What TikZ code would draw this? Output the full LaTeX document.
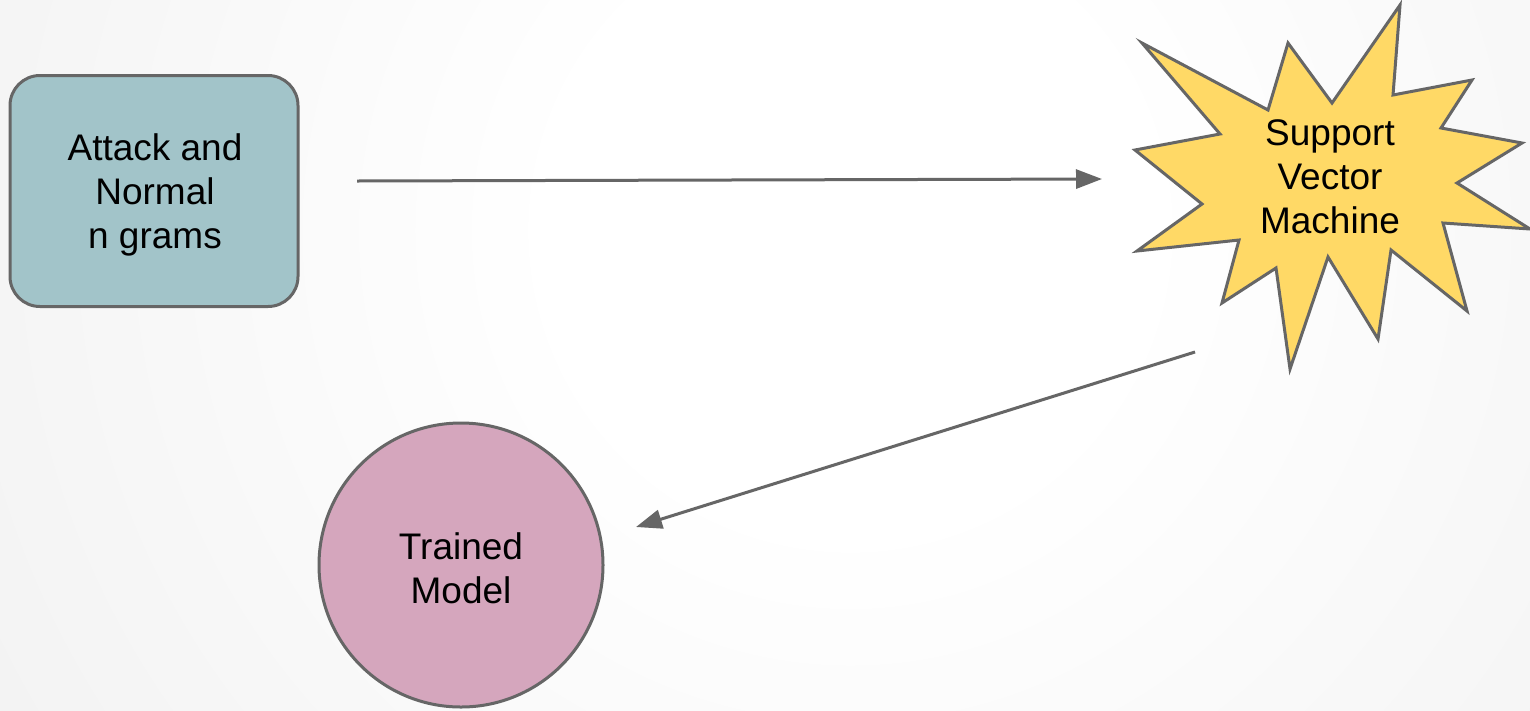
\documentclass[tikz,border=0pt]{standalone}
\usepackage{fontspec}
\setmainfont{Liberation Sans}
\usetikzlibrary{arrows.meta}
\definecolor{edge}{HTML}{666666}
\definecolor{boxfill}{HTML}{A2C4C9}
\definecolor{starfill}{HTML}{FFD966}
\definecolor{roundfill}{HTML}{D5A6BD}
\definecolor{bgouter}{HTML}{DFDFDF}
\pgfdeclareradialshading{bgglow}{\pgfpoint{0bp}{0bp}}{color(0bp)=(white); color(7bp)=(white); color(50bp)=(bgouter)}
\tikzset{
  label text/.style={align=center, text=black, font=\fontsize{37}{44}\selectfont},
  shape line/.style={draw=edge, line width=3pt},
  flow/.style={draw=edge, line width=3pt, -{Triangle[length=26pt, width=19pt]}},
}
\begin{document}
\begin{tikzpicture}[x=1pt, y=-1pt]
  \useasboundingbox (0,0) rectangle (1530,710);
  % soft light background
  \begin{scope}
    \clip (0,0) rectangle (1530,710);
    \fill[bgouter] (0,0) rectangle (1530,710);
    \shade[shading=bgglow] (850,230) circle (1050pt);
  \end{scope}

  % input data
  \node[shape line, fill=boxfill, rounded corners=30pt, minimum width=288pt,
        minimum height=231pt] (ngrams) at (154,191) {};
  \node[label text] (ngramstext) at (155,195) {Attack and\\Normal\\n grams};

  % classifier burst
  \filldraw[shape line, fill=starfill]
    (1400,5) -- (1393,95) -- (1472,80) -- (1441,128) -- (1522,143)
    -- (1457,183) -- (1530,229) -- (1443,223) -- (1467,311) -- (1391,250)
    -- (1378,339) -- (1328,257) -- (1290,369) -- (1276,268) -- (1222,303)
    -- (1239,240) -- (1137,251) -- (1202,204) -- (1135,150) -- (1220,134)
    -- (1142,43) -- (1268,110) -- (1288,43) -- (1332,103) -- cycle;
  \node[label text] (svm) at (1330,177) {Support\\Vector\\Machine};

  % output model
  \node[shape line, fill=roundfill, circle, minimum size=284pt, inner sep=0pt]
        (model) at (461,565) {};
  \node[label text] (modeltext) at (461,568) {Trained\\Model};

  % connectors
  \coordinate (a1s) at (357,181);
  \coordinate (a1e) at (1102,179);
  \coordinate (a2s) at (1195,352);
  \coordinate (a2e) at (636,527);
  \draw[flow] (a1s) -- (a1e);
  \draw[flow] (a2s) -- (a2e);
\end{tikzpicture}
\end{document}
